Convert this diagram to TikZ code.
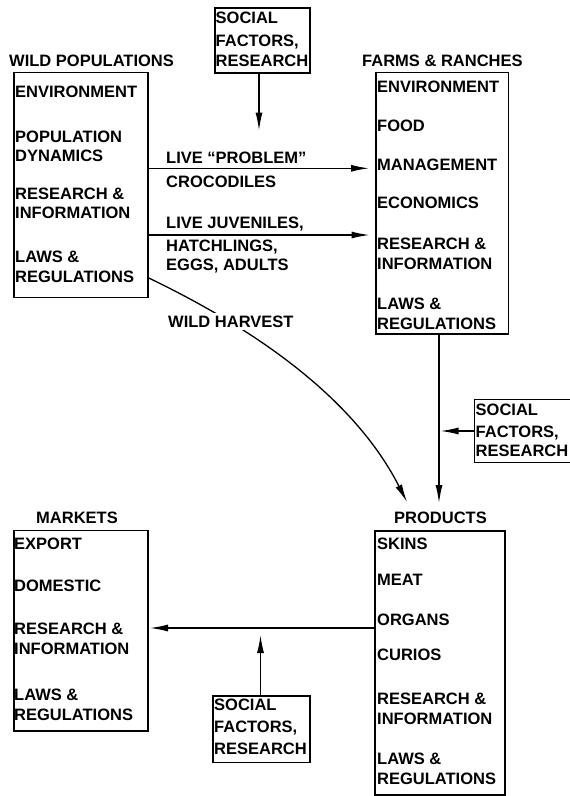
\documentclass[tikz,border=0pt]{standalone}
\usepackage{fontspec}
\setmainfont{Liberation Sans}
\usetikzlibrary{arrows.meta}
\begin{document}
\begin{tikzpicture}[x=1pt,y=-1pt,
  box/.style={draw, line width=1.8pt, inner sep=0pt, anchor=north west},
  lbl/.style={font=\fontsize{16.5}{19.5}\selectfont\bfseries, inner sep=0pt, anchor=base west},
  arr/.style={line width=1.3pt, -{Latex[length=18pt,width=7pt]}}]
\useasboundingbox[fill=white] (0,0) rectangle (570,796);

% ---------- WILD POPULATIONS ----------
\node[box, minimum width=134pt, minimum height=225pt] (wild) at (13,71.5) {};
\node[lbl] (wildT) at (9,66) {WILD POPULATIONS};
\node[lbl] (w1) at (15,97) {ENVIRONMENT};
\node[lbl] (w2) at (15,142) {POPULATION};
\node[lbl] (w3) at (15,161) {DYNAMICS};
\node[lbl] (w4) at (15,199) {RESEARCH \&};
\node[lbl] (w5) at (15,218) {INFORMATION};
\node[lbl] (w6) at (15,262) {LAWS \&};
\node[lbl] (w7) at (15,282) {REGULATIONS};

% ---------- FARMS & RANCHES ----------
\node[box, minimum width=132.5pt, minimum height=261.5pt] (farms) at (375,71.5) {};
\node[lbl] (farmsT) at (362,66.5) {FARMS \& RANCHES};
\node[lbl] (f1) at (377,92) {ENVIRONMENT};
\node[lbl] (f2) at (377,131) {FOOD};
\node[lbl] (f3) at (377,170) {MANAGEMENT};
\node[lbl] (f4) at (377,208) {ECONOMICS};
\node[lbl] (f5) at (377,249) {RESEARCH \&};
\node[lbl] (f6) at (377,269) {INFORMATION};
\node[lbl] (f7) at (377,309) {LAWS \&};
\node[lbl] (f8) at (377,329) {REGULATIONS};

% ---------- top SOCIAL box ----------
\node[box, minimum width=95pt, minimum height=64.5pt] (soct) at (214,7.3) {};
\node[lbl] (st1) at (215.5,23.5) {SOCIAL};
\node[lbl] (st2) at (215.5,46) {FACTORS,};
\node[lbl] (st3) at (215.5,66.5) {RESEARCH};

% ---------- right SOCIAL box ----------
\node[box, minimum width=96pt, minimum height=63pt] (socr) at (473.5,398.5) {};
\node[lbl] (sr1) at (475.5,415) {SOCIAL};
\node[lbl] (sr2) at (475.5,437) {FACTORS,};
\node[lbl] (sr3) at (475.5,456) {RESEARCH};

% ---------- PRODUCTS ----------
\node[box, minimum width=130pt, minimum height=264pt] (prod) at (374,530) {};
\node[lbl] (prodT) at (394,523) {PRODUCTS};
\node[lbl] (p1) at (377,549) {SKINS};
\node[lbl] (p2) at (377,585.5) {MEAT};
\node[lbl] (p3) at (377,625) {ORGANS};
\node[lbl] (p4) at (377,660.5) {CURIOS};
\node[lbl] (p5) at (377,704) {RESEARCH \&};
\node[lbl] (p6) at (377,724) {INFORMATION};
\node[lbl] (p7) at (377,764) {LAWS \&};
\node[lbl] (p8) at (377,784) {REGULATIONS};

% ---------- MARKETS ----------
\node[box, minimum width=134pt, minimum height=200.5pt] (mkt) at (12.7,529.5) {};
\node[lbl] (mktT) at (36,523) {MARKETS};
\node[lbl] (m1) at (14,549) {EXPORT};
\node[lbl] (m2) at (14,591.5) {DOMESTIC};
\node[lbl] (m3) at (14,634) {RESEARCH \&};
\node[lbl] (m4) at (14,654) {INFORMATION};
\node[lbl] (m5) at (14,700) {LAWS \&};
\node[lbl] (m6) at (14,720) {REGULATIONS};

% ---------- bottom SOCIAL box ----------
\node[box, minimum width=96.5pt, minimum height=66.5pt] (socb) at (212.3,695) {};
\node[lbl] (sb1) at (214,710.5) {SOCIAL};
\node[lbl] (sb2) at (214,732.5) {FACTORS,};
\node[lbl] (sb3) at (214,754) {RESEARCH};

% ---------- connectors ----------
\coordinate (a1) at (259,130.5);
\draw[arr] (soct.south -| a1) -- (a1);

\coordinate (lp) at (369,168.3);
\draw[arr] (wild.east |- lp) -- (lp);
\node[lbl] (lp1) at (166,163) {LIVE “PROBLEM”};
\node[lbl] (lp2) at (166,187) {CROCODILES};

\coordinate (lj) at (369.5,235);
\draw[arr] (wild.east |- lj) -- (lj);
\node[lbl] (lj1) at (166,228) {LIVE JUVENILES,};
\node[lbl] (lj2) at (166,251.5) {HATCHLINGS,};
\node[lbl] (lj3) at (166,270) {EGGS, ADULTS};

\coordinate (h0) at (0,278);
\coordinate (hz) at (407,502);
\draw[arr] (wild.east |- h0) .. controls (240,322) and (350,390) .. (hz);
\node[lbl, fill=white, inner xsep=1pt, inner ysep=2.5pt] (wh) at (167,327) {WILD HARVEST};

\coordinate (pv) at (439,503);
\draw[arr] (farms.south -| pv) -- (pv);

\coordinate (rj) at (440.5,431);
\draw[arr] (socr.west |- rj) -- (rj);

\coordinate (mj) at (150,628);
\draw[arr] (prod.west |- mj) -- (mj);

\coordinate (bj) at (260.5,635);
\draw[arr] (socb.north -| bj) -- (bj);
\end{tikzpicture}
\end{document}
